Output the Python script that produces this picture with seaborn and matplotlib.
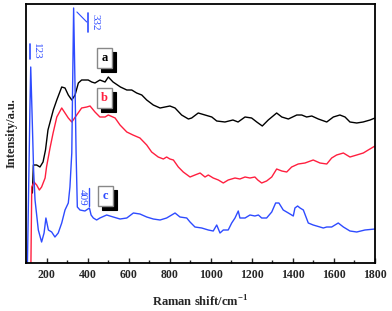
import matplotlib
matplotlib.use("Agg")
import matplotlib.pyplot as plt
import matplotlib.patheffects as pe
from matplotlib.patches import Rectangle
from matplotlib.ticker import MultipleLocator
import seaborn as sns
import pandas as pd

# Curve a (black)
a_x = [131, 133, 136, 152, 168, 183, 195, 207, 233, 250, 274, 290, 306, 323, 339, 355, 371, 403, 420, 436, 460,
       485, 501, 524, 560, 591, 615, 639, 664, 688, 720, 753, 801, 826, 858, 891, 907, 939, 972, 1005, 1029,
       1069, 1108, 1133, 1167, 1199, 1224, 1251, 1280, 1321, 1346, 1378, 1419, 1443, 1467, 1492, 1524, 1565,
       1597, 1629, 1654, 1678, 1711, 1742, 1776, 1800]
a_y = [70, 81, 98, 98, 96, 101, 113, 133, 153, 163, 176, 175, 168, 163, 168, 180, 183, 183, 181, 180, 183,
       181, 186, 181, 176, 173, 173, 170, 168, 163, 158, 155, 157, 155, 148, 144, 145, 150, 148, 146, 142,
       141, 143, 141, 146, 145, 141, 137, 143, 150, 146, 144, 148, 148, 146, 147, 144, 141,
       146, 148, 146, 141, 140, 141, 143, 145]

# Curve b (red)
b_x = [124, 128, 139, 152, 165, 176, 193, 200, 217, 232, 250, 274, 290, 306, 323, 347, 371, 396, 412, 436,
       460, 485, 501, 534, 558, 591, 621, 655, 688, 712, 744, 769, 785, 801, 818, 842, 866, 899, 923, 948,
       972, 988, 1012, 1037, 1061, 1085, 1118, 1142, 1167, 1191, 1215, 1229, 1248, 1272, 1297, 1321, 1346,
       1370, 1394, 1426, 1459, 1499, 1532, 1565, 1589, 1613, 1646, 1678, 1711, 1743, 1767, 1800]
b_y = [0, 76, 81, 78, 73, 76, 85, 96, 115, 130, 146, 155, 150, 145, 141, 148, 155, 156, 157, 151,
       146, 146, 148, 145, 138, 131, 128, 125, 118, 111, 106, 104, 106, 104, 103, 96, 91, 86, 88, 90,
       86, 88, 85, 83, 80, 83, 85, 84, 86, 85, 86, 83, 80, 82, 86, 94, 92,
       91, 96, 99, 100, 103, 100, 99, 105, 108, 110, 106, 108, 110, 113, 117]

# Curve c (blue)
c_x = [107, 112, 119, 123, 129, 137, 144, 160, 176, 188, 197, 209, 225, 241, 257, 274, 290, 306, 314, 323,
       332, 340, 344, 350, 363, 387, 409, 417, 428, 444, 460, 493, 525, 558, 591, 623, 655, 688, 720, 753,
       785, 826, 850, 883, 899, 923, 956, 988, 1012, 1029, 1045, 1061, 1085, 1102, 1118, 1134, 1142, 1167,
       1191, 1215, 1232, 1248, 1272, 1297, 1316, 1332, 1353, 1378, 1402, 1410, 1423, 1435, 1451, 1475, 1499,
       1532, 1548, 1565, 1589, 1621, 1646, 1678, 1711, 1751, 1800]
c_y = [0, 63, 153, 196, 153, 93, 63, 33, 21, 30, 45, 33, 31, 26, 30, 40, 53, 60, 76, 110,
       255, 163, 110, 56, 53, 52, 55, 48, 45, 43, 45, 48, 46, 44, 45, 50, 49, 46, 44, 43,
       45, 50, 46, 45, 41, 36, 35, 33, 32, 38, 30, 33, 33, 40, 45, 52, 45, 45,
       48, 47, 48, 45, 45, 51, 60, 60, 53, 50, 47, 55, 57, 55, 53, 40, 38,
       36, 35, 36, 36, 40, 36, 32, 31, 33, 34]

curve_labels = ["a", "b", "c"]
colors = ["#000000", "#FF1F3F", "#2E4BFF"]
peak_labels = ["123", "332", "409"]
x_ticks = [200, 400, 600, 800, 1000, 1200, 1400, 1600, 1800]

df = pd.concat([
    pd.DataFrame({"x": a_x, "y": a_y, "s": "a"}),
    pd.DataFrame({"x": b_x, "y": b_y, "s": "b"}),
    pd.DataFrame({"x": c_x, "y": c_y, "s": "c"}),
])

sns.set_style("white")
plt.rcParams["font.family"] = ["Liberation Serif", "DejaVu Serif"]
plt.rcParams["mathtext.fontset"] = "custom"
plt.rcParams["mathtext.rm"] = "Liberation Serif"
plt.rcParams["mathtext.bf"] = "Liberation Serif:bold"

fig = plt.figure(figsize=(3.92, 3.11), dpi=100)
ax = fig.add_axes([26 / 392, 48 / 311, 349 / 392, 259 / 311])

sns.lineplot(data=df, x="x", y="y", hue="s", palette=dict(zip(curve_labels, colors)),
             estimator=None, sort=False, linewidth=1.0, legend=False, ax=ax)

ax.set_xlim(100, 1800)
ax.set_ylim(0, 259)
ax.set_xticks(x_ticks)
ax.set_xticklabels([str(t) for t in x_ticks], fontweight="bold", fontsize=8.5)
ax.xaxis.set_minor_locator(MultipleLocator(100))
ax.set_yticks([])
ax.tick_params(axis="x", which="major", direction="in", length=3.5, width=1, pad=4, bottom=True, top=False)
ax.tick_params(axis="x", which="minor", direction="in", length=2.5, width=1, bottom=True, top=False)
for sp in ax.spines.values():
    sp.set_linewidth(1.3)
    sp.set_color("black")

ax.set_xlabel(r"Raman shift/cm$^{\mathbf{-1}}$", fontweight="bold", fontsize=9, labelpad=10)
ax.set_ylabel("Intensity/a.u.", fontweight="bold", fontsize=9, labelpad=6)

# boxed curve labels with shadow
box_pos = [(446, 195), (446, 155), (451, 57)]
for lab, col, (bx, by) in zip(curve_labels, colors, box_pos):
    ax.add_patch(Rectangle((bx + 19, by - 4), 73, 20, facecolor="black", edgecolor="black", lw=0.8, zorder=4))
    ax.add_patch(Rectangle((bx, by), 73, 20, facecolor="white", edgecolor="#888888", lw=1.0, zorder=5))
    ax.text(bx + 36.5, by + 10, lab, color=col, fontsize=9, fontweight="bold",
            ha="center", va="center", zorder=6)

blue = colors[2]
# peak annotations
ax.plot([121, 121], [204, 219], color=blue, lw=1.2)
ax.text(130, 212, peak_labels[0], color=blue, fontsize=8, rotation=-90, ha="left", va="center")
ax.plot([403, 403], [231, 250], color=blue, lw=1.2)
ax.plot([348, 396], [251, 241], color=blue, lw=0.8)
ax.text(412, 241, peak_labels[1], color=blue, fontsize=8, rotation=-90, ha="left", va="center")
ax.plot([405, 405], [57, 75], color=blue, lw=1.0)
ax.text(398, 66, peak_labels[2], color=blue, fontsize=8, rotation=-90, ha="right", va="center")

fig.savefig("out.png", dpi=100)
